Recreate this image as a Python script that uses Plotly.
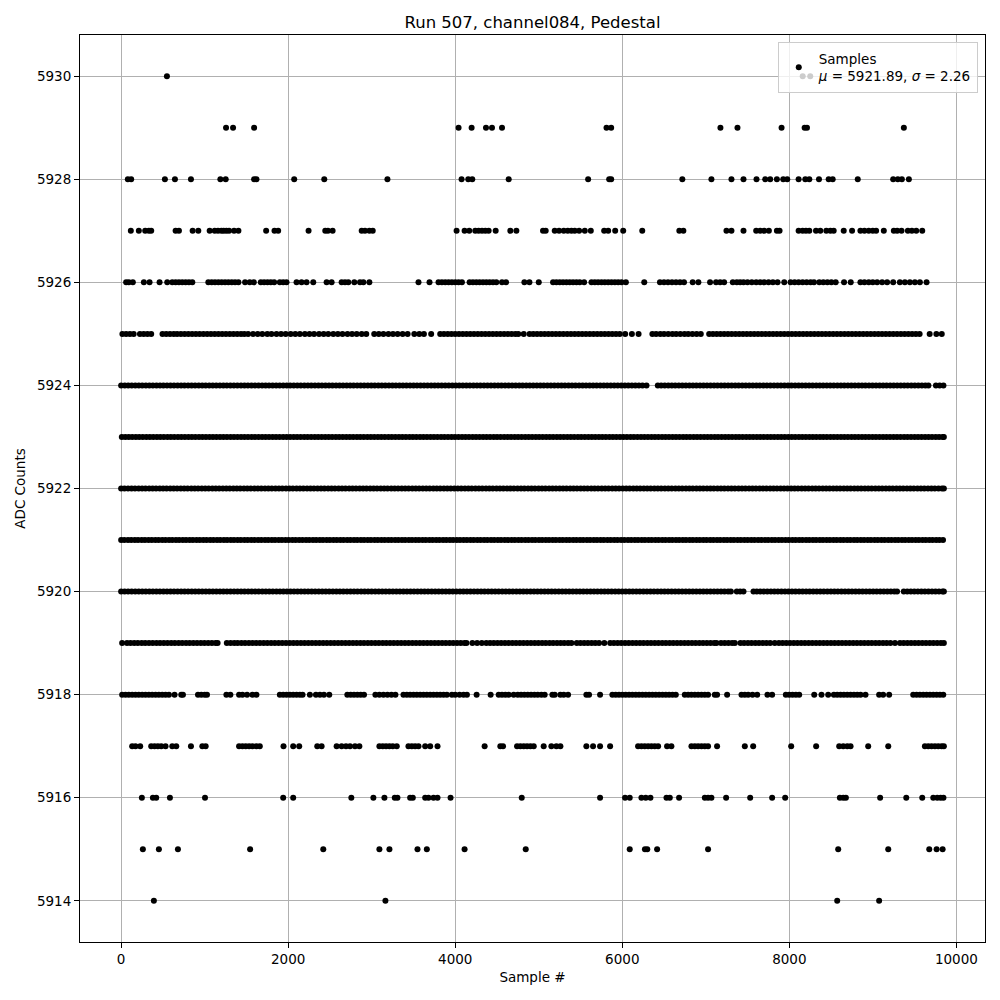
import plotly.graph_objects as go

# ---- data (sample index per ADC level) ----
levels = [5914, 5915, 5916, 5917, 5918, 5919, 5920, 5921, 5922, 5923, 5924, 5925, 5926, 5927, 5928, 5929, 5930]

x_5930 = [548, 8160, 8250]
x_5929 = [1256, 1340, 1592, 4040, 4196, 4368, 4440, 4560, 5811, 5867, 7175, 7379, 7907, 8183, 8211, 9371]
x_5928 = [80, 120, 524, 644, 836, 1188, 1252, 1592, 1620, 2072, 2432, 3188, 4076, 4156, 4204, 4640,
          5591, 5843, 5867, 6719, 7067, 7307, 7451, 7607, 7711, 7771, 7851, 7927, 7975, 8111, 8191,
          8239, 8355, 8471, 8519, 8819, 9243, 9299, 9347, 9431]
x_5927 = [116, 212, 288, 332, 360, 652, 692, 856, 924, 1060, 1120, 1160, 1200, 1228, 1260, 1292, 1352,
          1404, 1736, 1836, 1880, 2244, 2444, 2476, 2532, 2880, 2920, 2972, 3012, 4016, 4112, 4168,
          4240, 4280, 4320, 4360, 4400, 4484, 4660, 4732, 5051, 5083, 5191, 5243, 5299, 5347, 5391,
          5431, 5483, 5551, 5623, 5783, 5831, 5915, 6011, 6239, 6683, 6731, 7247, 7307, 7451, 7603,
          7651, 7699, 7755, 7851, 7883, 8111, 8159, 8199, 8239, 8319, 8371, 8443, 8491, 8531, 8651,
          8751, 8851, 8899, 8951, 8999, 9039, 9131, 9251, 9291, 9343, 9419, 9467, 9519, 9591]
x_5926 = [60, 92, 140, 272, 340, 460, 552, 612, 652, 692, 732, 772, 812, 852, 1044, 1084, 1124, 1164,
          1204, 1244, 1284, 1324, 1364, 1404, 1484, 1540, 1588, 1672, 1712, 1752, 1792, 1832, 1900,
          1940, 1980, 2100, 2160, 2220, 2300, 2460, 2520, 2640, 2680, 2720, 2792, 2860, 2900, 2972,
          3560, 3692, 3800, 3840, 3880, 3920, 3960, 4000, 4040, 4080, 4172, 4212, 4252, 4292, 4332,
          4372, 4412, 4452, 4492, 4560, 4608, 4828, 4888, 5000, 5171, 5211, 5251, 5291, 5331, 5371,
          5411, 5451, 5491, 5543, 5631, 5671, 5711, 5751, 5791, 5831, 5871, 5911, 5951, 5991, 6043,
          6263, 6451, 6499, 6547, 6595, 6643, 6691, 6739, 6843, 6911, 7051, 7123, 7171, 7219, 7323,
          7371, 7411, 7451, 7499, 7551, 7603, 7651, 7699, 7751, 7803, 7859, 7939, 8015, 8063, 8111,
          8159, 8207, 8255, 8295, 8359, 8407, 8455, 8503, 8555, 8655, 8735, 8851, 8899, 8951, 8999,
          9051, 9111, 9171, 9243, 9323, 9383, 9443, 9503, 9563, 9643]
x_5925 = [15, 60, 105, 150, 225, 270, 315, 360, 495, 540, 585, 630, 670, 715, 760, 805, 850, 895, 940,
          985, 1030, 1075, 1120, 1165, 1210, 1255, 1300, 1345, 1390, 1435, 1475, 1520, 1580, 1635,
          1690, 1750, 1800, 1860, 1915, 1970, 2030, 2085, 2140, 2200, 2255, 2310, 2370, 2425, 2480,
          2540, 2595, 2650, 2710, 2765, 2820, 2880, 2935, 3030, 3085, 3140, 3200, 3255, 3310, 3370,
          3430, 3510, 3570, 3625, 3712, 3820, 3865, 3910, 3955, 4000, 4045, 4090, 4135, 4180, 4225,
          4270, 4315, 4360, 4405, 4450, 4495, 4540, 4585, 4630, 4675, 4720, 4755, 4820, 4890, 4935,
          4980, 5025, 5070, 5115, 5160, 5205, 5250, 5295, 5340, 5385, 5430, 5475, 5520, 5565, 5610,
          5655, 5700, 5745, 5790, 5835, 5880, 5925, 5970, 6035, 6115, 6195, 6360, 6405, 6455, 6500,
          6550, 6600, 6645, 6695, 6745, 6790, 6840, 6890, 6940, 7040, 7085, 7130, 7175, 7220, 7265,
          7310, 7355, 7400, 7445, 7490, 7535, 7580, 7625, 7670, 7715, 7760, 7805, 7850, 7895, 7940,
          7985, 8030, 8075, 8120, 8165, 8210, 8255, 8300, 8345, 8390, 8435, 8480, 8525, 8570, 8615,
          8660, 8705, 8750, 8795, 8840, 8885, 8930, 8975, 9020, 9065, 9110, 9155, 9200, 9245, 9290,
          9335, 9380, 9425, 9470, 9515, 9560, 9680, 9760, 9825]
x_5924 = [0, 44, 85, 127, 170, 212, 253, 296, 338, 380, 423, 465, 506, 549, 591, 633, 676, 718, 759,
          802, 844, 886, 929, 971, 1012, 1055, 1097, 1139, 1182, 1224, 1265, 1308, 1350, 1392, 1435,
          1477, 1518, 1561, 1603, 1645, 1688, 1730, 1771, 1814, 1856, 1898, 1941, 1983, 2024, 2067,
          2109, 2151, 2194, 2236, 2277, 2320, 2362, 2404, 2447, 2489, 2530, 2573, 2615, 2657, 2700,
          2742, 2783, 2826, 2868, 2910, 2953, 2995, 3036, 3079, 3121, 3163, 3206, 3248, 3289, 3332,
          3374, 3416, 3459, 3501, 3542, 3585, 3627, 3669, 3712, 3754, 3795, 3838, 3880, 3922, 3965,
          4007, 4048, 4091, 4133, 4175, 4218, 4260, 4301, 4344, 4386, 4428, 4471, 4513, 4554, 4597,
          4639, 4681, 4724, 4766, 4807, 4850, 4892, 4934, 4977, 5019, 5060, 5103, 5145, 5187, 5230,
          5272, 5313, 5356, 5398, 5440, 5483, 5525, 5566, 5609, 5651, 5693, 5736, 5778, 5819, 5862,
          5904, 5946, 5989, 6031, 6072, 6115, 6157, 6199, 6242, 6290, 6425, 6466, 6508, 6551, 6593,
          6634, 6677, 6719, 6761, 6804, 6846, 6887, 6930, 6972, 7014, 7057, 7099, 7140, 7183, 7225,
          7267, 7310, 7352, 7393, 7436, 7478, 7520, 7563, 7605, 7646, 7689, 7731, 7773, 7816, 7858,
          7899, 7942, 7984, 8026, 8069, 8111, 8152, 8195, 8237, 8279, 8322, 8364, 8405, 8448, 8490,
          8532, 8575, 8617, 8658, 8701, 8743, 8785, 8828, 8870, 8911, 8954, 8996, 9038, 9081, 9123,
          9164, 9207, 9249, 9291, 9334, 9376, 9417, 9460, 9502, 9544, 9587, 9629, 9665, 9755, 9800,
          9845]
x_5923 = [8, 50, 91, 133, 176, 217, 259, 302, 343, 385, 428, 469, 511, 554, 595, 637, 680, 721, 763,
          806, 847, 889, 932, 973, 1015, 1058, 1099, 1141, 1184, 1225, 1267, 1310, 1351, 1393, 1436,
          1477, 1519, 1562, 1603, 1645, 1688, 1729, 1771, 1814, 1855, 1897, 1940, 1981, 2023, 2066,
          2107, 2149, 2192, 2233, 2275, 2318, 2359, 2401, 2444, 2485, 2527, 2570, 2611, 2653, 2696,
          2737, 2779, 2822, 2863, 2905, 2948, 2989, 3031, 3074, 3115, 3157, 3200, 3241, 3283, 3326,
          3367, 3409, 3452, 3493, 3535, 3578, 3619, 3661, 3704, 3745, 3787, 3830, 3871, 3913, 3956,
          3997, 4039, 4082, 4123, 4165, 4208, 4249, 4291, 4334, 4375, 4417, 4460, 4501, 4543, 4586,
          4627, 4669, 4712, 4753, 4795, 4838, 4879, 4921, 4964, 5005, 5047, 5090, 5131, 5173, 5216,
          5257, 5299, 5342, 5383, 5425, 5468, 5509, 5551, 5594, 5635, 5677, 5720, 5761, 5803, 5846,
          5887, 5929, 5972, 6013, 6055, 6098, 6139, 6181, 6224, 6265, 6307, 6350, 6391, 6433, 6476,
          6517, 6559, 6602, 6643, 6685, 6728, 6769, 6811, 6854, 6895, 6937, 6980, 7021, 7063, 7106,
          7147, 7189, 7232, 7273, 7315, 7358, 7399, 7441, 7484, 7525, 7567, 7610, 7651, 7693, 7736,
          7777, 7819, 7862, 7903, 7945, 7988, 8029, 8071, 8114, 8155, 8197, 8240, 8281, 8323, 8366,
          8407, 8449, 8492, 8533, 8575, 8618, 8659, 8701, 8744, 8785, 8827, 8870, 8911, 8953, 8996,
          9037, 9079, 9122, 9163, 9205, 9248, 9289, 9331, 9374, 9415, 9457, 9500, 9541, 9583, 9626,
          9667, 9709, 9752, 9793, 9835, 9850]
x_5922 = [0, 40, 83, 125, 166, 210, 251, 292, 336, 377, 418, 462, 503, 544, 588, 629, 670, 714, 755,
          796, 840, 881, 922, 966, 1007, 1048, 1092, 1133, 1174, 1218, 1259, 1300, 1344, 1385, 1426,
          1470, 1511, 1552, 1596, 1637, 1678, 1722, 1763, 1804, 1848, 1889, 1930, 1974, 2015, 2056,
          2100, 2141, 2182, 2226, 2267, 2308, 2352, 2393, 2434, 2478, 2519, 2560, 2604, 2645, 2686,
          2730, 2771, 2812, 2856, 2897, 2938, 2982, 3023, 3064, 3108, 3149, 3190, 3234, 3275, 3316,
          3360, 3401, 3442, 3486, 3527, 3568, 3612, 3653, 3694, 3738, 3779, 3820, 3864, 3905, 3946,
          3990, 4031, 4072, 4116, 4157, 4198, 4242, 4283, 4324, 4368, 4409, 4450, 4494, 4535, 4576,
          4620, 4661, 4702, 4746, 4787, 4828, 4872, 4913, 4954, 4998, 5039, 5080, 5124, 5165, 5206,
          5250, 5291, 5332, 5376, 5417, 5458, 5502, 5543, 5584, 5628, 5669, 5710, 5754, 5795, 5836,
          5880, 5921, 5962, 6006, 6047, 6088, 6132, 6173, 6214, 6258, 6299, 6340, 6384, 6425, 6466,
          6510, 6551, 6592, 6636, 6677, 6718, 6762, 6803, 6844, 6888, 6929, 6970, 7014, 7055, 7096,
          7140, 7181, 7222, 7266, 7307, 7348, 7392, 7433, 7474, 7518, 7559, 7600, 7644, 7685, 7726,
          7770, 7811, 7852, 7896, 7937, 7978, 8022, 8063, 8104, 8148, 8189, 8230, 8274, 8315, 8356,
          8400, 8441, 8482, 8526, 8567, 8608, 8652, 8693, 8734, 8778, 8819, 8860, 8904, 8945, 8986,
          9030, 9071, 9112, 9156, 9197, 9238, 9282, 9323, 9364, 9408, 9449, 9490, 9534, 9575, 9616,
          9660, 9701, 9742, 9786, 9827, 9850]
x_5921 = [0, 38, 82, 121, 164, 203, 246, 285, 328, 367, 410, 449, 492, 531, 574, 613, 656, 695, 738,
          777, 820, 859, 902, 941, 984, 1023, 1066, 1105, 1148, 1187, 1230, 1269, 1312, 1351, 1394,
          1433, 1476, 1515, 1558, 1597, 1640, 1679, 1722, 1761, 1804, 1843, 1886, 1925, 1968, 2007,
          2050, 2089, 2132, 2171, 2214, 2253, 2296, 2335, 2378, 2417, 2460, 2499, 2542, 2581, 2624,
          2663, 2706, 2745, 2788, 2827, 2870, 2909, 2952, 2991, 3034, 3073, 3116, 3155, 3198, 3237,
          3280, 3319, 3362, 3401, 3444, 3483, 3526, 3565, 3608, 3647, 3690, 3729, 3772, 3811, 3854,
          3893, 3936, 3975, 4018, 4057, 4100, 4139, 4182, 4221, 4264, 4303, 4346, 4385, 4428, 4467,
          4510, 4549, 4592, 4631, 4674, 4713, 4756, 4795, 4838, 4877, 4920, 4959, 5002, 5041, 5084,
          5123, 5166, 5205, 5248, 5287, 5330, 5369, 5412, 5451, 5494, 5533, 5576, 5615, 5658, 5697,
          5740, 5779, 5822, 5861, 5904, 5943, 5986, 6025, 6068, 6107, 6150, 6189, 6232, 6271, 6314,
          6353, 6396, 6435, 6478, 6517, 6560, 6599, 6642, 6681, 6724, 6763, 6806, 6845, 6888, 6927,
          6970, 7009, 7052, 7091, 7134, 7173, 7216, 7255, 7298, 7337, 7380, 7419, 7462, 7501, 7544,
          7583, 7626, 7665, 7708, 7747, 7790, 7829, 7872, 7911, 7954, 7993, 8036, 8075, 8118, 8157,
          8200, 8239, 8282, 8321, 8364, 8403, 8446, 8485, 8528, 8567, 8610, 8649, 8692, 8731, 8774,
          8813, 8856, 8895, 8938, 8977, 9020, 9059, 9102, 9141, 9184, 9223, 9266, 9305, 9348, 9387,
          9430, 9469, 9512, 9551, 9594, 9633, 9676, 9715, 9758, 9797, 9840]
x_5920 = [0, 42, 84, 126, 169, 211, 253, 295, 338, 380, 422, 464, 507, 549, 591, 633, 676, 718, 760,
          802, 845, 887, 929, 971, 1014, 1056, 1098, 1140, 1183, 1225, 1267, 1309, 1352, 1394, 1436,
          1478, 1521, 1563, 1605, 1647, 1690, 1732, 1774, 1816, 1859, 1901, 1943, 1985, 2028, 2070,
          2112, 2154, 2197, 2239, 2281, 2323, 2366, 2408, 2450, 2492, 2535, 2577, 2619, 2661, 2704,
          2746, 2788, 2830, 2873, 2915, 2957, 2999, 3042, 3084, 3126, 3168, 3211, 3253, 3295, 3337,
          3380, 3422, 3464, 3506, 3549, 3591, 3633, 3675, 3718, 3760, 3802, 3844, 3887, 3929, 3971,
          4013, 4056, 4098, 4140, 4182, 4225, 4267, 4309, 4351, 4394, 4436, 4478, 4520, 4563, 4605,
          4647, 4689, 4732, 4774, 4816, 4858, 4901, 4943, 4985, 5027, 5070, 5112, 5154, 5196, 5239,
          5281, 5323, 5365, 5408, 5450, 5492, 5534, 5577, 5619, 5661, 5703, 5746, 5788, 5830, 5872,
          5915, 5957, 5999, 6041, 6084, 6126, 6168, 6210, 6253, 6295, 6337, 6379, 6422, 6464, 6506,
          6548, 6591, 6633, 6675, 6717, 6760, 6802, 6844, 6886, 6929, 6971, 7013, 7055, 7098, 7140,
          7182, 7224, 7267, 7300, 7371, 7411, 7451, 7571, 7610, 7652, 7694, 7736, 7779, 7821, 7863,
          7905, 7948, 7990, 8032, 8074, 8117, 8159, 8201, 8243, 8286, 8328, 8370, 8412, 8455, 8497,
          8539, 8581, 8624, 8666, 8708, 8750, 8793, 8835, 8877, 8919, 8962, 9004, 9046, 9088, 9131,
          9173, 9215, 9257, 9290, 9370, 9412, 9454, 9496, 9539, 9581, 9623, 9665, 9708, 9750, 9792,
          9834, 9850]
x_5919 = [12, 70, 112, 157, 200, 246, 289, 334, 378, 423, 466, 511, 555, 600, 643, 688, 732, 777, 820,
          865, 909, 954, 997, 1042, 1086, 1131, 1155, 1265, 1310, 1355, 1395, 1440, 1484, 1529, 1573,
          1618, 1662, 1707, 1751, 1796, 1840, 1885, 1929, 1974, 2018, 2063, 2107, 2152, 2196, 2241,
          2285, 2330, 2374, 2419, 2463, 2508, 2552, 2597, 2641, 2686, 2730, 2775, 2819, 2864, 2908,
          2953, 2997, 3042, 3086, 3131, 3175, 3220, 3264, 3309, 3353, 3398, 3442, 3487, 3531, 3576,
          3620, 3665, 3709, 3754, 3798, 3843, 3887, 3932, 3976, 4021, 4065, 4110, 4135, 4205, 4262,
          4318, 4372, 4417, 4461, 4506, 4550, 4595, 4639, 4684, 4728, 4773, 4817, 4862, 4906, 4951,
          4995, 5040, 5084, 5129, 5173, 5218, 5262, 5305, 5351, 5391, 5455, 5499, 5544, 5588, 5633,
          5677, 5722, 5785, 5855, 5899, 5944, 5988, 6033, 6077, 6122, 6166, 6211, 6255, 6300, 6344,
          6389, 6433, 6478, 6522, 6567, 6611, 6656, 6700, 6745, 6789, 6834, 6878, 6923, 6967, 7012,
          7056, 7101, 7128, 7182, 7226, 7271, 7315, 7348, 7415, 7459, 7504, 7548, 7593, 7637, 7682,
          7726, 7771, 7825, 7875, 7919, 7964, 8008, 8053, 8097, 8142, 8186, 8231, 8275, 8320, 8364,
          8409, 8453, 8498, 8542, 8587, 8631, 8676, 8720, 8765, 8809, 8854, 8898, 8943, 8987, 9032,
          9076, 9121, 9165, 9210, 9265, 9325, 9369, 9414, 9458, 9503, 9547, 9592, 9636, 9681, 9725,
          9770, 9814, 9850]
x_5918 = [12, 52, 92, 132, 172, 212, 252, 292, 332, 372, 412, 452, 492, 532, 572, 640, 720, 740, 920,
          960, 1000, 1028, 1260, 1308, 1412, 1452, 1508, 1572, 1620, 1900, 1940, 1980, 2020, 2060,
          2100, 2140, 2172, 2260, 2332, 2380, 2428, 2492, 2708, 2748, 2788, 2828, 2868, 2908, 3044,
          3092, 3140, 3188, 3236, 3284, 3380, 3420, 3460, 3500, 3540, 3580, 3620, 3660, 3700, 3740,
          3780, 3820, 3860, 3900, 3960, 4000, 4052, 4100, 4140, 4256, 4424, 4520, 4560, 4600, 4640,
          4700, 4748, 4788, 4828, 4868, 4908, 4948, 4988, 5031, 5071, 5163, 5191, 5259, 5299, 5351,
          5570, 5602, 5734, 5881, 5921, 5961, 6001, 6041, 6081, 6121, 6161, 6201, 6241, 6281, 6321,
          6361, 6401, 6441, 6481, 6521, 6561, 6601, 6641, 6748, 6788, 6828, 6868, 6908, 6948, 6988,
          7027, 7107, 7135, 7255, 7427, 7467, 7507, 7559, 7615, 7738, 7794, 7958, 7998, 8038, 8078,
          8118, 8298, 8385, 8465, 8533, 8573, 8613, 8653, 8693, 8733, 8773, 8813, 8853, 8912, 9075,
          9123, 9195, 9483, 9523, 9563, 9603, 9643, 9683, 9723, 9763, 9803, 9843]
x_5917 = [132, 172, 228, 360, 400, 440, 480, 532, 612, 660, 836, 972, 1012, 1412, 1452, 1492, 1532,
          1572, 1620, 1660, 1944, 2060, 2132, 2348, 2400, 2580, 2640, 2692, 2740, 2800, 2852, 3092,
          3132, 3172, 3212, 3252, 3300, 3440, 3480, 3520, 3560, 3640, 3700, 3788, 4352, 4540, 4572,
          4740, 4780, 4820, 4860, 4900, 4940, 5059, 5151, 5211, 5259, 5570, 5650, 5734, 5854, 6189,
          6229, 6269, 6309, 6349, 6389, 6429, 6536, 6588, 6828, 6868, 6908, 6948, 6988, 7027, 7135,
          7467, 7567, 8022, 8321, 8597, 8645, 8693, 8733, 8944, 9184, 9623, 9663, 9703, 9743, 9783,
          9823, 9850]
x_5916 = [248, 380, 420, 584, 1004, 1940, 2060, 2756, 3020, 3152, 3276, 3308, 3460, 3492, 3640, 3680,
          3740, 3788, 3944, 4796, 5734, 6033, 6089, 6229, 6281, 6337, 6529, 6569, 6680, 6988, 7027,
          7067, 7243, 7531, 7794, 7950, 8605, 8645, 8677, 9087, 9400, 9591, 9723, 9771, 9811, 9845]
x_5915 = [260, 452, 680, 1544, 2420, 3092, 3212, 3548, 3660, 4112, 4844, 6089, 6271, 6299, 6417,
          7027, 8585, 9184, 9675, 9763, 9835]
x_5914 = [392, 3164, 8573, 9075]

x_by_level = [x_5914, x_5915, x_5916, x_5917, x_5918, x_5919, x_5920, x_5921, x_5922,
              x_5923, x_5924, x_5925, x_5926, x_5927, x_5928, x_5929, x_5930]

mu = 5921.89
sigma = 2.26
x_ticks = [0, 2000, 4000, 6000, 8000, 10000]
y_ticks = [5914, 5916, 5918, 5920, 5922, 5924, 5926, 5928, 5930]

# ---- build point arrays ----
xs, ys = [], []
for lvl, xl in zip(levels, x_by_level):
    xs.extend(xl)
    ys.extend([lvl] * len(xl))

FONT = "DejaVu Sans"

fig = go.Figure()
fig.add_trace(go.Scatter(
    x=xs, y=ys, mode="markers",
    marker=dict(color="black", size=6, line=dict(width=0)),
    name=f"Samples<br><i>μ</i> = {mu:.2f}, <i>σ</i> = {sigma:.2f}",
    showlegend=True,
))

axis_common = dict(
    showline=True, mirror=True, linecolor="black", linewidth=1,
    ticks="outside", ticklen=5, tickwidth=1, tickcolor="black",
    showgrid=True, gridcolor="#b0b0b0", gridwidth=1,
    zeroline=False,
    tickfont=dict(family=FONT, size=13.5, color="black"),
)

# the page body adds an 8px offset, so the figure is 992px with margins shifted accordingly
fig.update_layout(
    width=992, height=992,
    margin=dict(l=72, r=15, t=27, b=58),
    paper_bgcolor="white", plot_bgcolor="white",
    font=dict(family=FONT, color="black"),
    title=dict(text="Run 507, channel084, Pedestal", x=0.5, xref="paper",
               xanchor="center", y=0.986, yref="container", yanchor="middle",
               font=dict(family=FONT, size=16.5, color="black")),
    xaxis=dict(axis_common, range=[-492.5, 10342.5], tickvals=x_ticks,
               ticktext=[str(v) for v in x_ticks],
               title=dict(text="Sample #", font=dict(family=FONT, size=13.5), standoff=6)),
    yaxis=dict(axis_common, range=[5913.2, 5930.8], tickvals=y_ticks,
               ticktext=[str(v) for v in y_ticks],
               title=dict(text="ADC Counts", font=dict(family=FONT, size=13.5), standoff=8)),
    legend=dict(x=0.992, y=0.992, xanchor="right", yanchor="top",
                bgcolor="rgba(255,255,255,0.8)", bordercolor="#cccccc", borderwidth=1,
                font=dict(family=FONT, size=13.5, color="black")),
)

fig.write_html("out.html")
